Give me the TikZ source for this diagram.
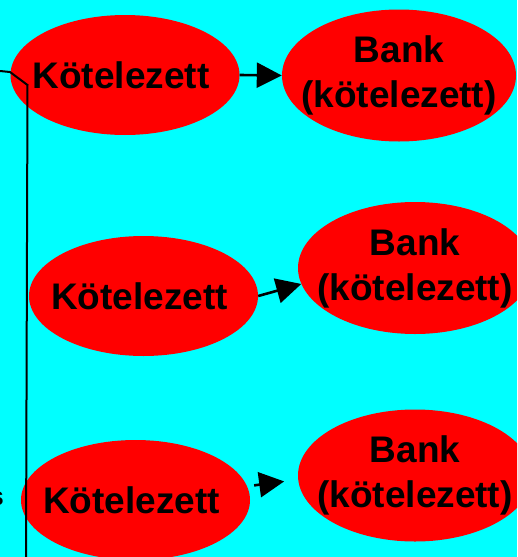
\documentclass[tikz,border=0pt]{standalone}
\usepackage{fontspec}
\setmainfont{Liberation Sans}
\usetikzlibrary{shapes.geometric,arrows.meta}
\definecolor{bgcyan}{RGB}{0,255,255}
\definecolor{ellred}{RGB}{255,0,0}
\tikzset{
  party/.style={ellipse, fill=ellred, inner sep=0pt, minimum width=229pt, minimum height=120pt},
  bank/.style={ellipse, fill=ellred, inner sep=0pt, minimum width=234pt, minimum height=132pt},
  lbl/.style={font=\fontsize{37}{45}\selectfont\bfseries, align=center, inner sep=0pt},
  arr/.style={line width=2.6pt, -{Triangle[length=25pt,width=25pt]}}
}
\begin{document}
\begin{tikzpicture}[x=1pt,y=-1pt]
\useasboundingbox[fill=bgcyan] (0,0) rectangle (517,557);
\clip (0,0) rectangle (517,557);

\node[party] (k1) at (125,75) {};
\node[bank] (b1) at (399,75.5) {};
\node[party] (k2) at (143.5,296) {};
\node[bank] (b2) at (415,268) {};
\node[party] (k3) at (135.5,500) {};
\node[bank] (b3) at (415,475.5) {};

\node[lbl] (k1t) at ([xshift=-4pt]k1) {Kötelezett};
\node[lbl] (k2t) at ([xshift=-4pt]k2) {Kötelezett};
\node[lbl] (k3t) at ([xshift=-4pt]k3) {Kötelezett};
\node[lbl] (b1t) at (b1) {Bank\\(kötelezett)};
\node[lbl] (b2t) at (b2) {Bank\\(kötelezett)};
\node[lbl] (b3t) at (b3) {Bank\\(kötelezett)};

\node[anchor=base east, inner sep=0pt, font=\fontsize{26}{30}\selectfont\bfseries] (s) at (4,505) {s};

\draw[arr] (k1.east) -- (b1.west);
\draw[arr] (k2.east) -- (b2.188);
\draw[arr, shorten <=7pt, shorten >=14pt] (k3.7) -- (b3.182);

% line coming in from the left
\coordinate (in) at (0,71);
\coordinate (c1) at (10,72);
\coordinate (c2) at (27.5,85);
\coordinate (out) at (26,557);
\draw[line width=2pt] (in) -- (c1) -- (c2) -- (out);
\end{tikzpicture}
\end{document}
